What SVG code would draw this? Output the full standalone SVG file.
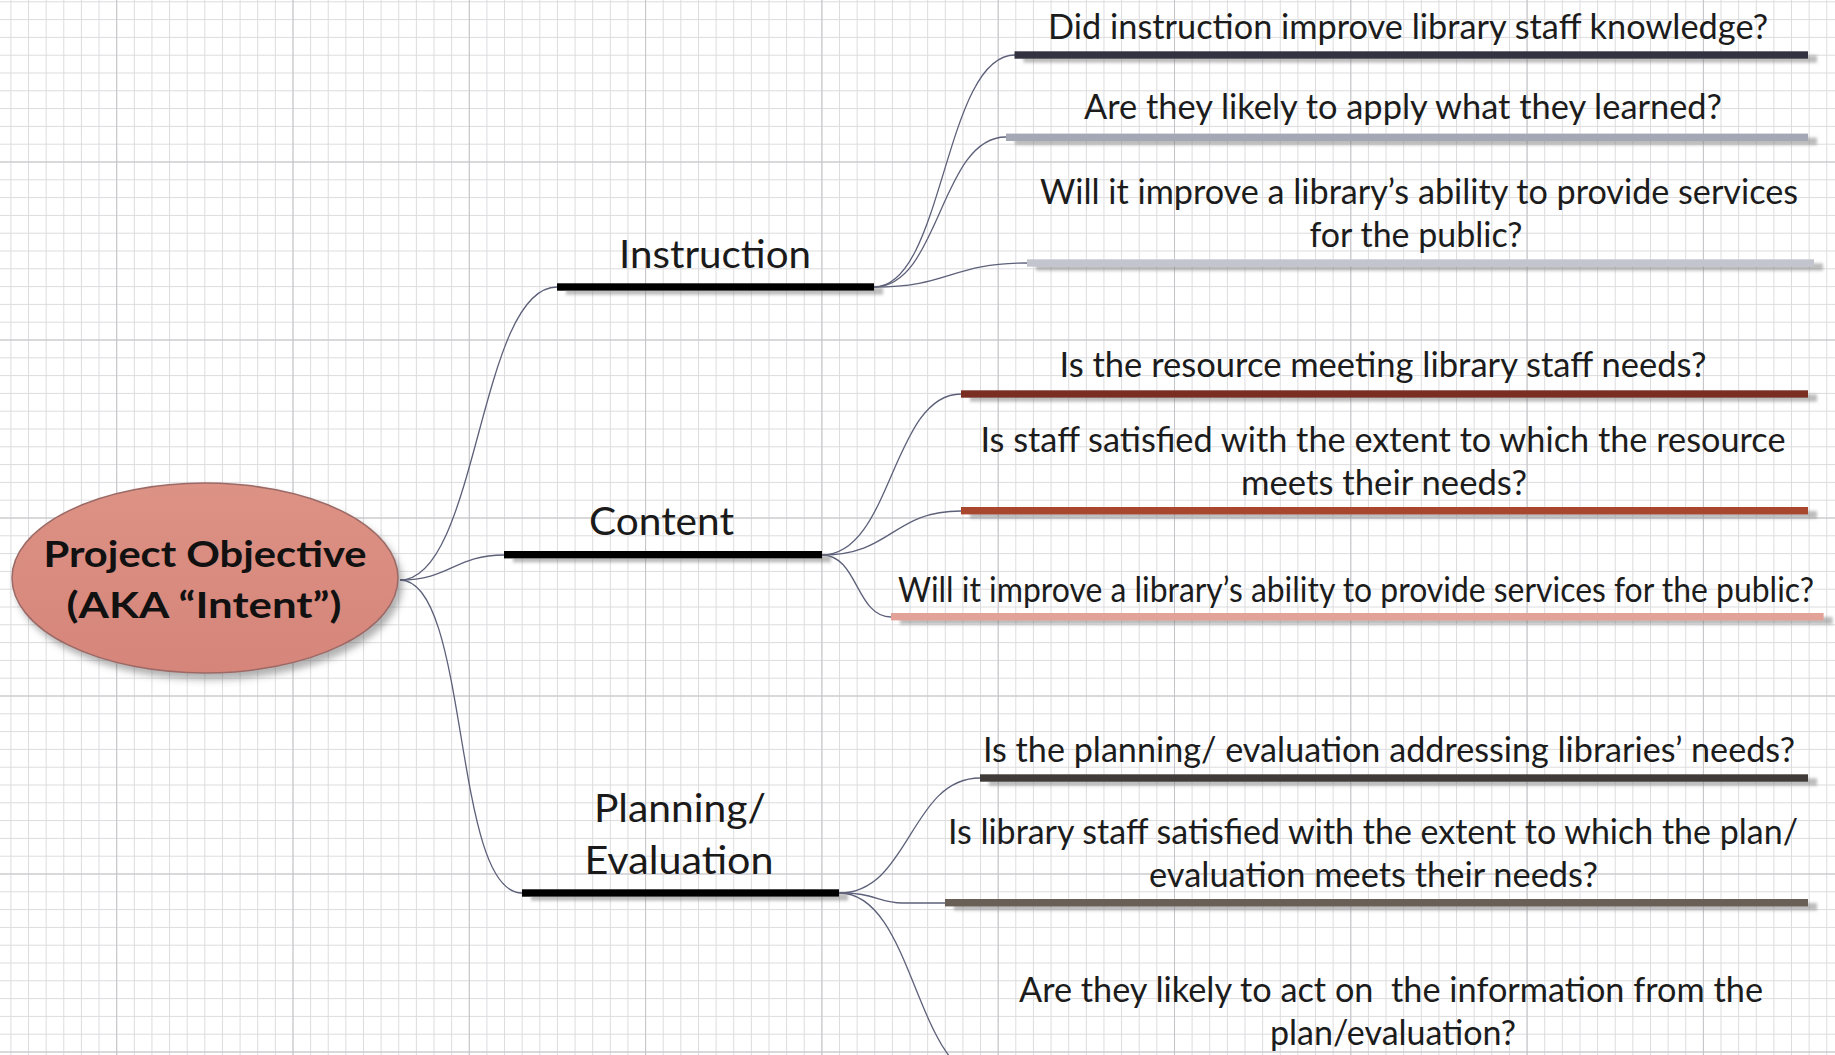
<svg xmlns="http://www.w3.org/2000/svg" width="1835" height="1055" viewBox="0 0 1835 1055">
  <defs>
    <pattern id="minor" patternUnits="userSpaceOnUse" x="10.4" y="1.3" width="17.63" height="17.8">
      <rect x="0" y="0" width="1" height="17.8" fill="#dcdcdf"/>
      <rect x="0" y="0" width="17.63" height="1" fill="#dcdcdf"/>
    </pattern>
    <pattern id="major" patternUnits="userSpaceOnUse" x="116.2" y="161.5" width="176.3" height="178">
      <rect x="0" y="0" width="1" height="178" fill="#c4c4c8"/>
      <rect x="0" y="0" width="176.3" height="1" fill="#c4c4c8"/>
    </pattern>
    <filter id="barShadow" x="-5%" y="-200%" width="110%" height="500%">
      <feDropShadow dx="9" dy="4" stdDeviation="1.5" flood-color="#7a7a7a" flood-opacity="0.5"/>
    </filter>
    <filter id="rootShadow" x="-10%" y="-10%" width="125%" height="130%">
      <feDropShadow dx="4" dy="6" stdDeviation="3.5" flood-color="#555" flood-opacity="0.45"/>
    </filter>
    <linearGradient id="rootFill" x1="0" y1="0" x2="0" y2="1">
      <stop offset="0" stop-color="#dc9284"/>
      <stop offset="1" stop-color="#d6857a"/>
    </linearGradient>
  </defs>
  <style>
    .leaf { font-family: Lato, "Liberation Sans", sans-serif; font-size: 35px; fill: #1c1c1c; text-anchor: middle; }
    .sub { font-family: Lato, "Liberation Sans", sans-serif; font-size: 38px; fill: #1a1a1a; text-anchor: middle; }
    .root { font-family: Lato, "Liberation Sans", sans-serif; font-size: 37px; font-weight: bold; fill: #111; text-anchor: middle; }
    .conn { fill: none; stroke: #5c6079; stroke-width: 1.3; }
    .bar { filter: url(#barShadow); }
  </style>

  <rect x="0" y="0" width="1835" height="1055" fill="#ffffff"/>
  <rect x="0" y="0" width="1835" height="1055" fill="url(#minor)"/>
  <rect x="0" y="0" width="1835" height="1055" fill="url(#major)"/>

  <g id="connectors">
    <path class="conn" d="M400,580 C478,580 479,287 557,287"/>
    <path class="conn" d="M400,580 C450,580 455,555 504,555"/>
    <path class="conn" d="M400,580 C470,580 452,893 522,893"/>
    <path class="conn" d="M874,287 C944,287 944,55 1015,55"/>
    <path class="conn" d="M874,287 C940,287 940,137 1006,137"/>
    <path class="conn" d="M874,287 C950,287 950,263 1027,263"/>
    <path class="conn" d="M822,555 C892,555 892,394 961,394"/>
    <path class="conn" d="M822,555 C892,555 892,511 961,511"/>
    <path class="conn" d="M822,555 C858,555 856,617 891,617"/>
    <path class="conn" d="M839,893 C910,893 910,778 980,778"/>
    <path class="conn" d="M839,893 C872,892 880,903 902,903 L945,903"/>
    <path class="conn" d="M839,893 C915,893 915,1080 990,1080"/>
  </g>

  <g id="root">
    <ellipse cx="205" cy="578" rx="193" ry="95" fill="url(#rootFill)" stroke="#9c6a66" stroke-width="1.5" filter="url(#rootShadow)"/>
    <text class="root" x="205" y="567" textLength="323" lengthAdjust="spacingAndGlyphs">Project Objective</text>
    <text class="root" x="204" y="618" textLength="275" lengthAdjust="spacingAndGlyphs">(AKA “Intent”)</text>
  </g>

  <g id="instruction">
    <rect class="bar" x="557" y="283.3" width="317" height="7.4" fill="#000"/>
    <text class="sub" x="715" y="268" textLength="192" lengthAdjust="spacingAndGlyphs">Instruction</text>
  </g>
  <g id="content">
    <rect class="bar" x="504" y="551" width="318" height="7.4" fill="#000"/>
    <text class="sub" x="661.5" y="535" textLength="145" lengthAdjust="spacingAndGlyphs">Content</text>
  </g>
  <g id="planning">
    <rect class="bar" x="522" y="889.3" width="317" height="7.4" fill="#000"/>
    <text class="sub" x="680" y="822" textLength="172" lengthAdjust="spacingAndGlyphs">Planning/</text>
    <text class="sub" x="679" y="874" textLength="189" lengthAdjust="spacingAndGlyphs">Evaluation</text>
  </g>

  <g id="leaf-instruction-1">
    <rect class="bar" x="1014.5" y="51.3" width="793.5" height="7.4" fill="#30323f"/>
    <text class="leaf" x="1408" y="38.5" textLength="720" lengthAdjust="spacingAndGlyphs">Did instruction improve library staff knowledge?</text>
  </g>
  <g id="leaf-instruction-2">
    <rect class="bar" x="1006" y="133.6" width="802" height="7.4" fill="#a4a8b5"/>
    <text class="leaf" x="1403" y="118.5" textLength="638" lengthAdjust="spacingAndGlyphs">Are they likely to apply what they learned?</text>
  </g>
  <g id="leaf-instruction-3">
    <rect class="bar" x="1027" y="259.3" width="787" height="7.4" fill="#c2c5cd"/>
    <text class="leaf" x="1419" y="204" textLength="758" lengthAdjust="spacingAndGlyphs">Will it improve a library’s ability to provide services</text>
    <text class="leaf" x="1416" y="246.7" textLength="213" lengthAdjust="spacingAndGlyphs">for the public?</text>
  </g>

  <g id="leaf-content-1">
    <rect class="bar" x="961" y="390.3" width="847" height="7.4" fill="#7a2f24"/>
    <text class="leaf" x="1383" y="377" textLength="647" lengthAdjust="spacingAndGlyphs">Is the resource meeting library staff needs?</text>
  </g>
  <g id="leaf-content-2">
    <rect class="bar" x="961" y="507" width="847" height="7.4" fill="#a9462f"/>
    <text class="leaf" x="1383" y="451.7" textLength="805" lengthAdjust="spacingAndGlyphs">Is staff satisfied with the extent to which the resource</text>
    <text class="leaf" x="1384" y="495" textLength="286" lengthAdjust="spacingAndGlyphs">meets their needs?</text>
  </g>
  <g id="leaf-content-3">
    <rect class="bar" x="891" y="613" width="932.6" height="7.4" fill="#e2a297"/>
    <text class="leaf" x="1814" y="601.7" textLength="916" lengthAdjust="spacingAndGlyphs" style="text-anchor:end">Will it improve a library’s ability to provide services for the public?</text>
  </g>

  <g id="leaf-planning-1">
    <rect class="bar" x="980" y="774.3" width="828" height="7.4" fill="#403b37"/>
    <text class="leaf" x="1389" y="761.7" textLength="812" lengthAdjust="spacingAndGlyphs">Is the planning/ evaluation addressing libraries’ needs?</text>
  </g>
  <g id="leaf-planning-2">
    <rect class="bar" x="945" y="899" width="863" height="7.4" fill="#6a5f57"/>
    <text class="leaf" x="1373" y="844" textLength="850" lengthAdjust="spacingAndGlyphs">Is library staff satisfied with the extent to which the plan/</text>
    <text class="leaf" x="1373.5" y="886.7" textLength="449" lengthAdjust="spacingAndGlyphs">evaluation meets their needs?</text>
  </g>
  <g id="leaf-planning-3">
    <text class="leaf" x="1391" y="1001.7" textLength="744" lengthAdjust="spacingAndGlyphs" style="white-space:pre">Are they likely to act on  the information from the</text>
    <text class="leaf" x="1393" y="1045" textLength="246" lengthAdjust="spacingAndGlyphs">plan/evaluation?</text>
  </g>
</svg>
